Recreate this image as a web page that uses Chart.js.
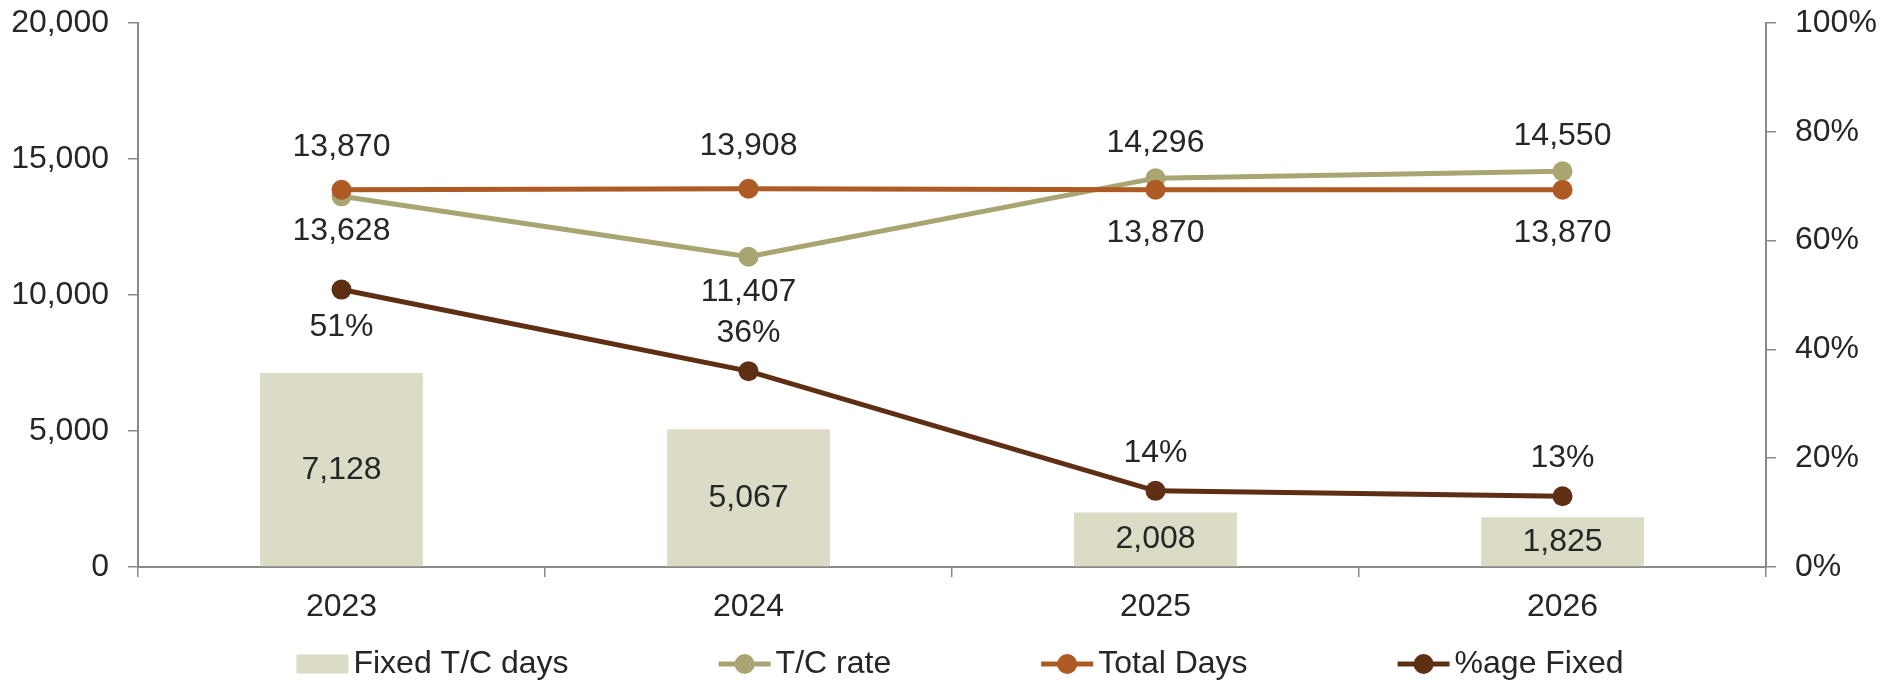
<!DOCTYPE html>
<html>
<head>
<meta charset="utf-8">
<title>Fixed T/C days</title>
<script src="https://cdn.jsdelivr.net/npm/chart.js@4.4.1/dist/chart.umd.min.js"></script>
<style>
  html, body { margin: 0; padding: 0; background: #fff; }
  #wrap { width: 1896px; height: 683px; }
</style>
</head>
<body>
<div id="wrap"><canvas id="fleetChart" width="1896" height="683"></canvas></div>
<script>
// Chart data
const years = ['2023', '2024', '2025', '2026'];
const fixedDays = [7128, 5067, 2008, 1825];
const tcRate = [13628, 11407, 14296, 14550];
const totalDays = [13870, 13908, 13870, 13870];
const pctFixed = [0.51, 0.36, 0.14, 0.13];

const leftTicks = [0, 5000, 10000, 15000, 20000];
const rightTicks = [0, 0.2, 0.4, 0.6, 0.8, 1];

const FONT = 'Liberation Sans, Arial, sans-serif';
const FONT_SIZE = 32;
const TEXT = '#262626';
const AXIS = '#898989';

const fmtNum = v => v.toLocaleString('en-US');
const fmtPct = v => Math.round(v * 100) + '%';

// value labels next to points / inside bars
const valueLabels = {
    id: 'valueLabels',
    afterDatasetsDraw(chart) {
        const ctx = chart.ctx;
        ctx.save();
        ctx.font = FONT_SIZE + 'px ' + FONT;
        ctx.fillStyle = TEXT;
        ctx.textAlign = 'center';
        ctx.textBaseline = 'middle';
        chart.data.datasets.forEach((ds, i) => {
            const meta = chart.getDatasetMeta(i);
            meta.data.forEach((el, j) => {
                const text = ds.fmt(ds.data[j]);
                let y;
                if (ds.type === 'bar') {
                    y = (el.y + el.base) / 2;
                } else {
                    y = ds.labelSide[j] === 'above' ? el.y - ds.labelGap : el.y + ds.labelGap;
                }
                ctx.fillText(text, el.x, y);
            });
        });
        ctx.restore();
    }
};

// legend row under the axis
const bottomLegend = {
    id: 'bottomLegend',
    afterDraw(chart) {
        const ctx = chart.ctx;
        const order = [0, 1, 2, 3];
        const marker = 52, gapText = 5, gapItem = 150;
        const y = 664;
        ctx.save();
        ctx.font = FONT_SIZE + 'px ' + FONT;
        const widths = order.map(i => marker + gapText + ctx.measureText(chart.data.datasets[i].label).width);
        const total = widths.reduce((a, b) => a + b, 0) + gapItem * (order.length - 1);
        let x = 960 - total / 2;
        order.forEach((i, k) => {
            const ds = chart.data.datasets[i];
            if (ds.type === 'bar') {
                ctx.fillStyle = ds.backgroundColor;
                ctx.fillRect(x, y - 9.5, marker, 19);
            } else {
                ctx.strokeStyle = ds.borderColor;
                ctx.lineWidth = ds.borderWidth;
                ctx.beginPath();
                ctx.moveTo(x, y);
                ctx.lineTo(x + marker, y);
                ctx.stroke();
                ctx.fillStyle = ds.borderColor;
                ctx.beginPath();
                ctx.arc(x + marker / 2, y, 10, 0, Math.PI * 2);
                ctx.fill();
            }
            ctx.fillStyle = TEXT;
            ctx.textAlign = 'left';
            ctx.textBaseline = 'middle';
            ctx.fillText(ds.label, x + marker + gapText, y);
            x += widths[k] + gapItem;
        });
        ctx.restore();
    }
};

// fixed axis sizes so the plot area lands where the original one is
function fixScale(size) {
    return function (scale) {
        if (scale.isHorizontal()) scale.height = size; else scale.width = size;
        scale.paddingTop = 0;
        scale.paddingBottom = 0;
        scale.paddingLeft = 0;
        scale.paddingRight = 0;
    };
}

const ctx = document.getElementById('fleetChart').getContext('2d');

new Chart(ctx, {
    data: {
        labels: years,
        datasets: [
            {
                type: 'bar',
                label: 'Fixed T/C days',
                data: fixedDays,
                backgroundColor: '#DCDBC6',
                barPercentage: 0.4,
                categoryPercentage: 1.0,
                yAxisID: 'y',
                order: 4,
                fmt: fmtNum
            },
            {
                type: 'line',
                label: 'T/C rate',
                data: tcRate,
                borderColor: '#A8A572',
                backgroundColor: '#A8A572',
                borderWidth: 5,
                pointRadius: 10,
                pointBorderWidth: 0,
                yAxisID: 'y',
                order: 3,
                labelSide: ['below', 'below', 'above', 'above'],
                labelGap: 35,
                fmt: fmtNum
            },
            {
                type: 'line',
                label: 'Total Days',
                data: totalDays,
                borderColor: '#AE5A24',
                backgroundColor: '#AE5A24',
                borderWidth: 5,
                pointRadius: 10,
                pointBorderWidth: 0,
                yAxisID: 'y',
                order: 2,
                labelSide: ['above', 'above', 'below', 'below'],
                labelGap: 43,
                fmt: fmtNum
            },
            {
                type: 'line',
                label: '%age Fixed',
                data: pctFixed,
                borderColor: '#5E2F14',
                backgroundColor: '#5E2F14',
                borderWidth: 5,
                pointRadius: 10,
                pointBorderWidth: 0,
                yAxisID: 'y1',
                order: 1,
                labelSide: ['below', 'above', 'above', 'above'],
                labelGap: 38,
                fmt: fmtPct
            }
        ]
    },
    options: {
        responsive: false,
        animation: false,
        devicePixelRatio: 1,
        layout: { padding: { top: 23, left: 0, right: 0, bottom: 0 } },
        plugins: {
            legend: { display: false },
            tooltip: { enabled: false }
        },
        scales: {
            x: {
                type: 'category',
                offset: true,
                grid: {
                    offset: true,
                    drawOnChartArea: false,
                    drawTicks: true,
                    tickLength: 10,
                    color: AXIS,
                    lineWidth: 1.5
                },
                border: { color: AXIS, width: 2 },
                ticks: {
                    color: TEXT,
                    padding: 11,
                    font: { family: FONT, size: FONT_SIZE }
                },
                afterFit: fixScale(116)
            },
            y: {
                position: 'left',
                min: 0,
                max: 20000,
                afterBuildTicks(scale) { scale.ticks = leftTicks.map(v => ({ value: v })); },
                grid: {
                    drawOnChartArea: false,
                    tickLength: 10,
                    color: AXIS,
                    lineWidth: 1.5
                },
                border: { color: AXIS, width: 2 },
                ticks: {
                    color: TEXT,
                    padding: 19,
                    font: { family: FONT, size: FONT_SIZE },
                    callback: v => fmtNum(v)
                },
                afterFit: fixScale(138)
            },
            y1: {
                position: 'right',
                min: 0,
                max: 1,
                afterBuildTicks(scale) { scale.ticks = rightTicks.map(v => ({ value: v })); },
                grid: {
                    drawOnChartArea: false,
                    tickLength: 10,
                    color: AXIS,
                    lineWidth: 1.5
                },
                border: { color: AXIS, width: 2 },
                ticks: {
                    color: TEXT,
                    padding: 19,
                    font: { family: FONT, size: FONT_SIZE },
                    callback: v => fmtPct(v)
                },
                afterFit: fixScale(130)
            }
        }
    },
    plugins: [valueLabels, bottomLegend]
});
</script>
</body>
</html>
